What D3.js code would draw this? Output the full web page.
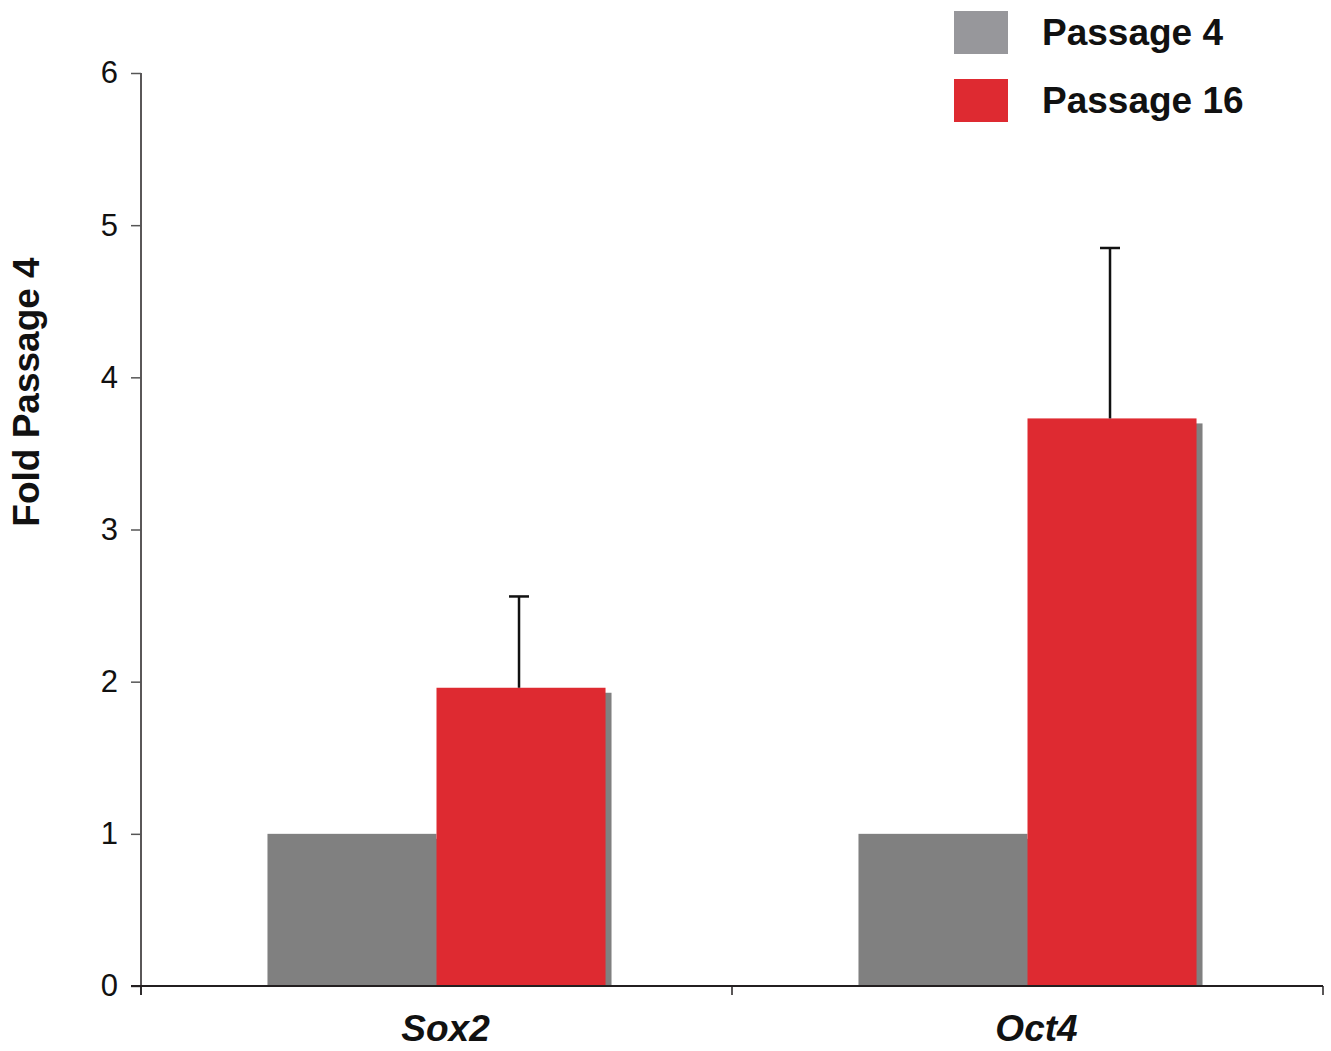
<!DOCTYPE html>
<html>
<head>
<meta charset="utf-8">
<script src="https://cdn.jsdelivr.net/npm/d3@7"></script>
<style>
  html, body { margin: 0; padding: 0; background: #fff; }
  svg { display: block; }
  text { font-family: "Liberation Sans", Arial, sans-serif; }
</style>
</head>
<body>
<svg id="chart" width="1331" height="1051"></svg>
<script>
// Expression data: fold change relative to passage 4
const genes = ["Sox2", "Oct4"];
const seriesNames = ["Passage 4", "Passage 16"];
const passage4 = [1, 1];
const passage16 = [1.96, 3.73];
const passage16Err = [0.60, 1.12];
const yTicks = [0, 1, 2, 3, 4, 5, 6];
const seriesColors = ["#808080", "#de2a31"];
const legendColors = ["#97979b", "#de2a31"];

const rows = genes.map((g, i) => ({
  gene: g,
  values: [
    { series: seriesNames[0], value: passage4[i], err: 0 },
    { series: seriesNames[1], value: passage16[i], err: passage16Err[i] }
  ]
}));

const svg = d3.select("#chart");
const plot = { left: 141, right: 1323, top: 73, bottom: 986 };
const axisColor = "#231f20";

const y = d3.scaleLinear().domain([0, 6]).range([plot.bottom, plot.top]);
const x0 = d3.scaleBand().domain(genes).range([plot.left, plot.right]);
const groupWidth = x0.bandwidth() * 0.572;
const x1 = d3.scaleBand().domain(seriesNames).range([0, groupWidth]);
const color = d3.scaleOrdinal().domain(seriesNames).range(seriesColors);

// Shadows are clipped at the baseline
svg.append("defs").append("clipPath").attr("id", "plotClip")
  .append("rect")
  .attr("x", plot.left).attr("y", 0)
  .attr("width", plot.right - plot.left + 20).attr("height", plot.bottom);

const groups = svg.append("g").selectAll("g")
  .data(rows).join("g")
  .attr("transform", d => `translate(${x0(d.gene) + (x0.bandwidth() - groupWidth) / 2},0)`);

// Drop shadows
groups.append("g").attr("clip-path", "url(#plotClip)")
  .selectAll("rect")
  .data(d => d.values).join("rect")
  .attr("x", d => x1(d.series) + 6)
  .attr("y", d => y(d.value) + 5)
  .attr("width", x1.bandwidth())
  .attr("height", d => y(0) - y(d.value))
  .attr("fill", "#808080");

// Bars
groups.append("g").selectAll("rect")
  .data(d => d.values).join("rect")
  .attr("x", d => x1(d.series))
  .attr("y", d => y(d.value))
  .attr("width", x1.bandwidth())
  .attr("height", d => y(0) - y(d.value))
  .attr("fill", d => color(d.series));

// Upper error bars
const errs = groups.append("g").selectAll("g")
  .data(d => d.values.filter(v => v.err > 0)).join("g")
  .attr("stroke", "#111").attr("stroke-width", 2.5);
errs.append("line")
  .attr("x1", d => x1(d.series) + x1.bandwidth() / 2 - 2)
  .attr("x2", d => x1(d.series) + x1.bandwidth() / 2 - 2)
  .attr("y1", d => y(d.value))
  .attr("y2", d => y(d.value + d.err));
errs.append("line")
  .attr("x1", d => x1(d.series) + x1.bandwidth() / 2 - 12)
  .attr("x2", d => x1(d.series) + x1.bandwidth() / 2 + 8)
  .attr("y1", d => y(d.value + d.err))
  .attr("y2", d => y(d.value + d.err));

// Y axis
const yAxis = svg.append("g")
  .attr("transform", `translate(${plot.left},0)`)
  .call(d3.axisLeft(y).tickValues(yTicks).tickFormat(d3.format("d")).tickSize(10).tickPadding(13));
yAxis.select(".domain").attr("d", `M0,${plot.top}V${plot.bottom + 9}`)
  .attr("stroke", axisColor).attr("stroke-width", 1.5);
yAxis.selectAll(".tick line").attr("stroke", "#555").attr("stroke-width", 1.5);
yAxis.selectAll("text")
  .attr("font-size", 31).attr("fill", "#111")
  .attr("font-family", "'Liberation Sans', Arial, sans-serif");

// X axis with boundary ticks between categories
const xAxis = svg.append("g")
  .attr("transform", `translate(0,${plot.bottom})`)
  .call(d3.axisBottom(x0).tickValues([]).tickSizeOuter(0));
xAxis.select(".domain").attr("d", `M${plot.left - 10},0H${plot.right}`)
  .attr("stroke", axisColor).attr("stroke-width", 1.8);
const bounds = [plot.left, x0(genes[1]), plot.right];
xAxis.selectAll(".bound").data(bounds).join("line")
  .attr("class", "bound")
  .attr("x1", d => d).attr("x2", d => d)
  .attr("y1", 0).attr("y2", 9)
  .attr("stroke", axisColor).attr("stroke-width", 1.5);

// Category labels
svg.append("g").selectAll("text")
  .data(genes).join("text")
  .attr("x", d => x0(d) + x0.bandwidth() / 2 + 9)
  .attr("y", 1041)
  .attr("text-anchor", "middle")
  .attr("font-size", 37)
  .attr("font-weight", "bold")
  .attr("font-style", "italic")
  .attr("fill", "#111")
  .text(d => d);

// Y axis title
svg.append("text")
  .attr("transform", "translate(39,392) rotate(-90)")
  .attr("text-anchor", "middle")
  .attr("font-size", 37)
  .attr("font-weight", "bold")
  .attr("fill", "#111")
  .text("Fold Passage 4");

// Legend
const legend = svg.append("g").selectAll("g")
  .data(seriesNames).join("g")
  .attr("transform", (d, i) => `translate(954,${11 + i * 68})`);
legend.append("rect")
  .attr("width", 54).attr("height", 43)
  .attr("fill", (d, i) => legendColors[i]);
legend.append("text")
  .attr("x", 88).attr("y", 34)
  .attr("font-size", 37)
  .attr("font-weight", "bold")
  .attr("fill", "#111")
  .text(d => d);
</script>
</body>
</html>
